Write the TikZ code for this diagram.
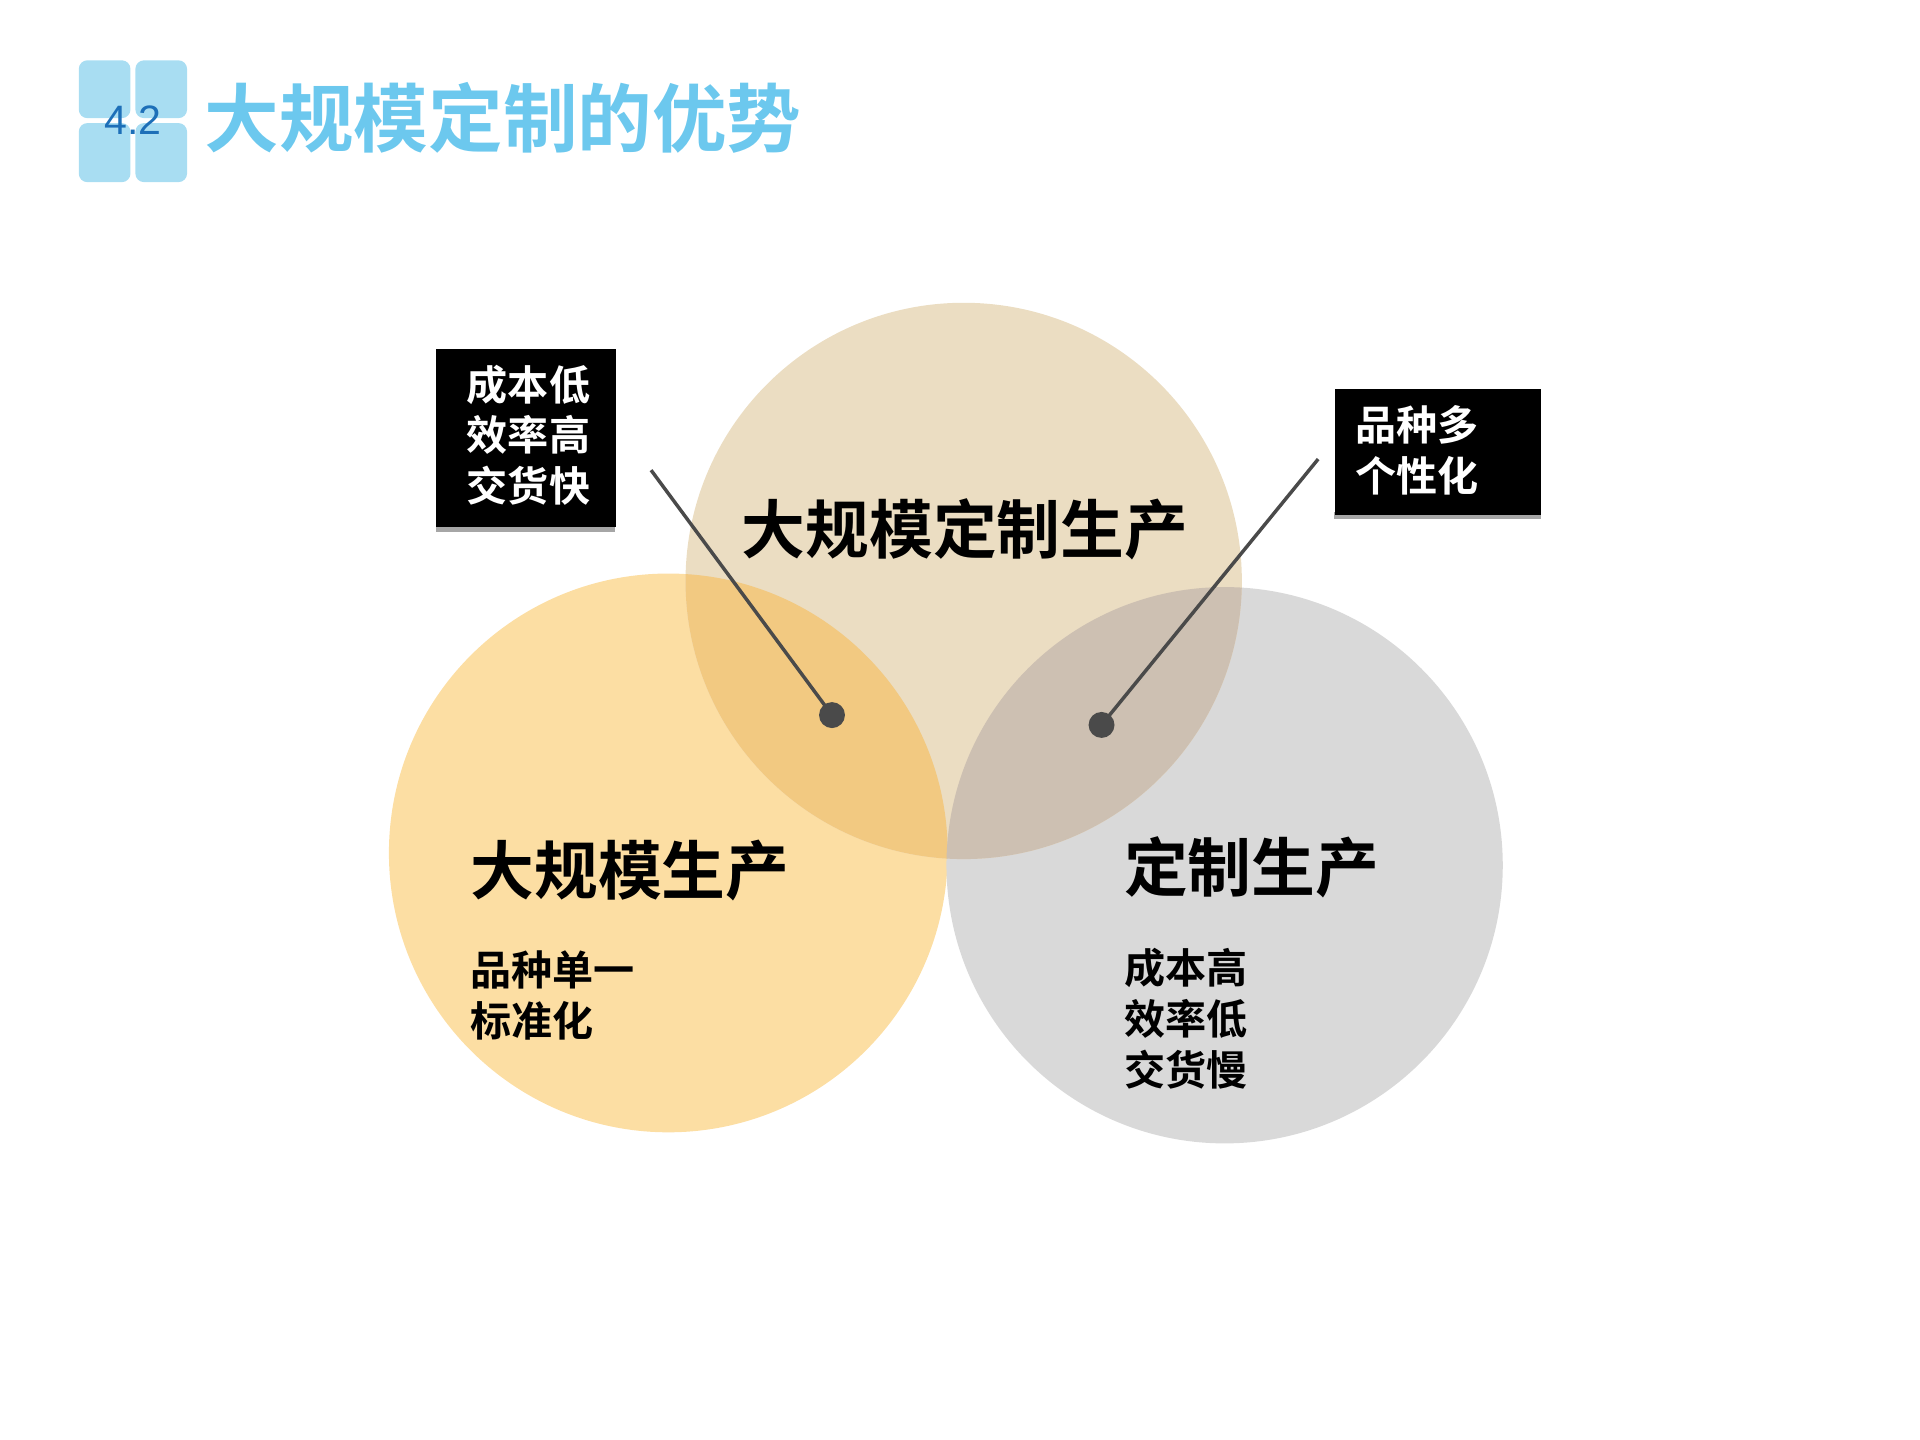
\documentclass[tikz,border=0pt]{standalone}
\usepackage{fontspec}
\newfontfamily\cjk{Noto Sans CJK SC}
\newfontfamily\cjkb{Noto Sans CJK SC Bold}
\setmainfont{Liberation Sans}
\definecolor{tblue}{HTML}{A8DDF2}
\definecolor{ttext}{HTML}{6CC8EE}
\definecolor{numblue}{HTML}{1D6FB8}
\definecolor{ctop}{HTML}{EBDDC2}
\definecolor{cleft}{HTML}{FCDEA3}
\definecolor{cright}{HTML}{D9D9D9}
\definecolor{olt}{HTML}{F2C981}
\definecolor{otr}{HTML}{CDC0B2}
\definecolor{lin}{HTML}{4A4A4A}
\tikzset{
 sq/.style={fill=tblue,rounded corners=4pt},
 big/.style={font=\cjkb\fontsize{29.5}{32}\selectfont,inner sep=0pt},
 small/.style={font=\cjkb\fontsize{19}{23.5}\selectfont,align=left,inner sep=0pt},
 blk/.style={fill=black},
 shd/.style={fill=gray!70},
 dot/.style={circle,fill=lin,minimum size=12pt,inner sep=0pt},
 conn/.style={draw=lin,line width=1.6pt}
}
\begin{document}
\begin{tikzpicture}[x=0.02cm,y=-0.02cm]
\useasboundingbox (0,0) rectangle (1560,1170);
% title
\fill[sq] (64,49) rectangle (106,96);
\fill[sq] (110,49) rectangle (152,96);
\fill[sq] (64,100) rectangle (106,148);
\fill[sq] (110,100) rectangle (152,148);
\node[font=\fontsize{19}{20}\selectfont,text=numblue] (num) at (108,98) {4.2};
\node[anchor=west,font=\cjkb\fontsize{34.5}{36}\selectfont,text=ttext,inner sep=0pt] (title) at (166,96) {大规模定制的优势};
% circles
\fill[cleft] (543,693) circle (227);
\fill[cright] (995,703) circle (226);
\fill[ctop] (783,472) circle (226);
\begin{scope}
\clip (543,693) circle (227);
\fill[olt] (783,472) circle (226);
\end{scope}
\begin{scope}
\clip (995,703) circle (226);
\fill[otr] (783,472) circle (226);
\end{scope}
% texts
\node[big] (t1) at (784,430) {大规模定制生产};
\node[big,anchor=west] (t2) at (382,707) {大规模生产};
\node[big,anchor=west] (t3) at (913,705) {定制生产};
\node[small,anchor=north west] (l2) at (382,772) {品种单一\\标准化};
\node[small,anchor=north west] (l3) at (913,770) {成本高\\效率低\\交货慢};
% black boxes
\fill[shd] (354,426) rectangle (500,432);
\node[blk,anchor=north west,minimum width=146*0.02cm,minimum height=145*0.02cm,inner sep=0pt] (bl) at (354,283) {};
\node[small,text=white,anchor=north west] at (379,296) {成本低\\效率高\\交货快};
\fill[shd] (1084,416) rectangle (1252,422);
\node[blk,anchor=north west,minimum width=168*0.02cm,minimum height=102*0.02cm,inner sep=0pt] (br) at (1084,316) {};
\node[small,text=white,anchor=north west] at (1101,329) {品种多\\个性化};
% connectors
\node[dot] (d1) at (676,581) {};
\node[dot] (d2) at (895,589) {};
\coordinate (s1) at (529,382);
\coordinate (s2) at (1071,373);
\draw[conn] (s1) -- (d1.center);
\draw[conn] (s2) -- (d2.center);
\end{tikzpicture}
\end{document}
